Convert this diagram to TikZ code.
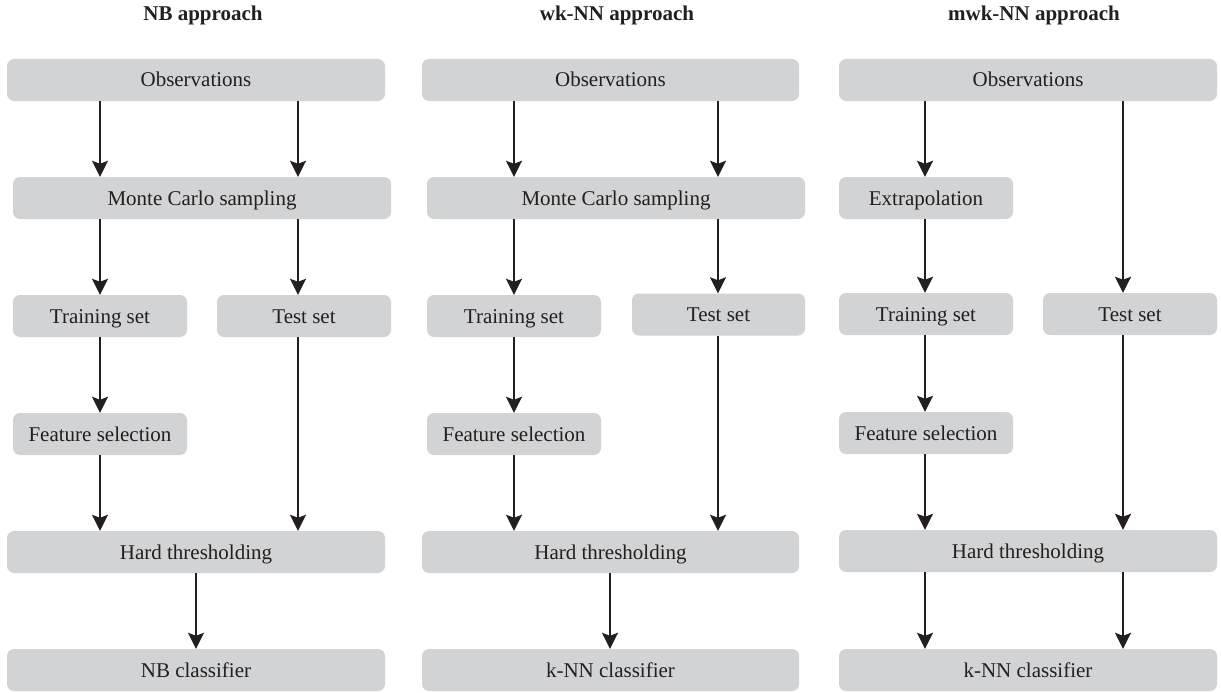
\documentclass[tikz,border=0pt]{standalone}
\usepackage{fontspec}
\setmainfont{Liberation Serif}
\usetikzlibrary{arrows.meta}
\definecolor{boxgray}{RGB}{209,211,212}
\definecolor{ink}{RGB}{35,31,32}
\begin{document}
\begin{tikzpicture}[x=1pt,y=-1pt,
  box/.style={fill=boxgray, draw=none, rounded corners=7pt, inner sep=0pt,
    minimum height=42pt, text height=14pt, text depth=0pt, text=ink,
    font=\fontsize{21}{25}\selectfont},
  wide/.style={box, minimum width=378pt},
  narrow/.style={box, minimum width=174pt},
  title/.style={anchor=base, text=ink, inner sep=0pt, font=\fontsize{21}{25}\selectfont\bfseries},
  arr/.style={draw=ink, line width=2.2pt, -{Stealth[length=16pt,width=16pt,inset=3pt]}}
]
\useasboundingbox (0,0) rectangle (1221,693);

% titles
\node[title] (tA) at (203,21) {NB approach};
\node[title] (tB) at (617,21) {wk-NN approach};
\node[title] (tC) at (1034,21) {mwk-NN approach};

% column A
\node[wide] (obsA) at (196,80) {Observations};
\node[wide] (mcA) at (202,198) {Monte Carlo sampling};
\node[narrow] (trA) at (100,316) {Training set};
\node[narrow] (teA) at (304,316) {Test set};
\node[narrow] (feA) at (100,434) {Feature selection};
\node[wide] (htA) at (196,552) {Hard thresholding};
\node[wide] (clA) at (196,670) {NB classifier};

% column B
\node[wide, minimum width=377pt] (obsB) at (610.5,80) {Observations};
\node[wide] (mcB) at (616,198) {Monte Carlo sampling};
\node[narrow] (trB) at (514,316) {Training set};
\node[narrow, minimum width=173pt] (teB) at (718.5,314.5) {Test set};
\node[narrow] (feB) at (514,434) {Feature selection};
\node[wide, minimum width=377pt] (htB) at (610.5,552) {Hard thresholding};
\node[wide, minimum width=377pt] (clB) at (610.5,670) {k-NN classifier};

% column C
\node[wide] (obsC) at (1028,80) {Observations};
\node[narrow] (exC) at (926,198) {Extrapolation};
\node[narrow] (trC) at (926,314) {Training set};
\node[narrow] (teC) at (1130,314) {Test set};
\node[narrow] (feC) at (926,433) {Feature selection};
\node[wide] (htC) at (1028,551) {Hard thresholding};
\node[wide] (clC) at (1028,670) {k-NN classifier};

% arrow columns
\coordinate (xA1) at (100,0);
\coordinate (xA2) at (298,0);
\coordinate (xA3) at (196,0);
\coordinate (xB1) at (514,0);
\coordinate (xB2) at (718,0);
\coordinate (xB3) at (610,0);
\coordinate (xC1) at (925,0);
\coordinate (xC2) at (1123,0);

% arrows A
\draw[arr] (obsA.south -| xA1) -- (mcA.north -| xA1);
\draw[arr] (obsA.south -| xA2) -- (mcA.north -| xA2);
\draw[arr] (mcA.south -| xA1) -- (trA.north -| xA1);
\draw[arr] (mcA.south -| xA2) -- (teA.north -| xA2);
\draw[arr] (trA.south -| xA1) -- (feA.north -| xA1);
\draw[arr] (feA.south -| xA1) -- (htA.north -| xA1);
\draw[arr] (teA.south -| xA2) -- (htA.north -| xA2);
\draw[arr] (htA.south -| xA3) -- (clA.north -| xA3);

% arrows B
\draw[arr] (obsB.south -| xB1) -- (mcB.north -| xB1);
\draw[arr] (obsB.south -| xB2) -- (mcB.north -| xB2);
\draw[arr] (mcB.south -| xB1) -- (trB.north -| xB1);
\draw[arr] (mcB.south -| xB2) -- (teB.north -| xB2);
\draw[arr] (trB.south -| xB1) -- (feB.north -| xB1);
\draw[arr] (feB.south -| xB1) -- (htB.north -| xB1);
\draw[arr] (teB.south -| xB2) -- (htB.north -| xB2);
\draw[arr] (htB.south -| xB3) -- (clB.north -| xB3);

% arrows C
\draw[arr] (obsC.south -| xC1) -- (exC.north -| xC1);
\draw[arr] (obsC.south -| xC2) -- (teC.north -| xC2);
\draw[arr] (exC.south -| xC1) -- (trC.north -| xC1);
\draw[arr] (trC.south -| xC1) -- (feC.north -| xC1);
\draw[arr] (feC.south -| xC1) -- (htC.north -| xC1);
\draw[arr] (teC.south -| xC2) -- (htC.north -| xC2);
\draw[arr] (htC.south -| xC1) -- (clC.north -| xC1);
\draw[arr] (htC.south -| xC2) -- (clC.north -| xC2);
\end{tikzpicture}
\end{document}
